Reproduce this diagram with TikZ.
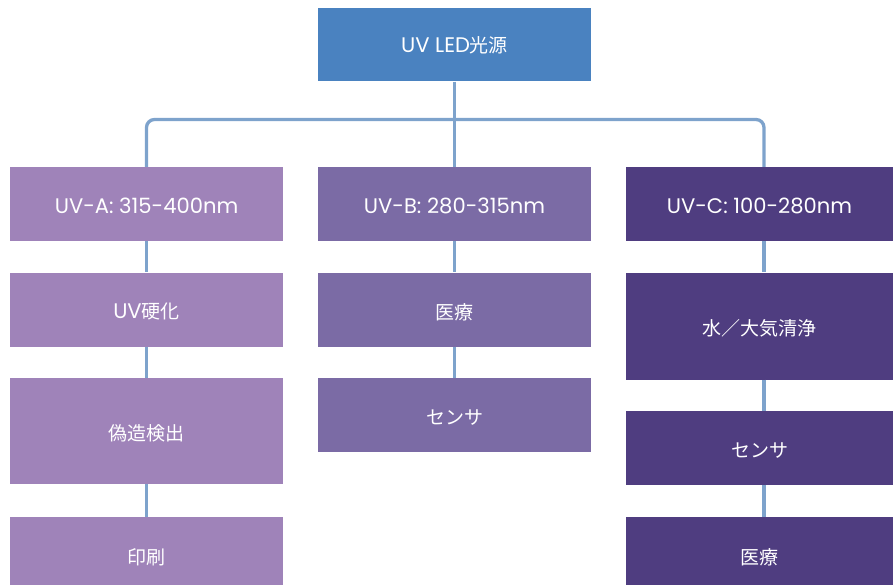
\documentclass[tikz,border=0pt]{standalone}
\usepackage{fontspec}
\setmainfont{Noto Sans CJK JP}
\newfontfamily\lat{Poppins}[Scale=1.11]
\newcommand\lowr[2]{\raisebox{-#1pt}[\height][\depth]{#2}}
\begin{document}
\begin{tikzpicture}[x=1pt,y=-1pt,
  box/.style={draw=none,minimum width=273pt,inner sep=0pt,text=white,font=\fontsize{19}{22}\selectfont},
  link/.style={draw=lineblue,line width=3.3pt},
]
\definecolor{topblue}{HTML}{4A82C0}
\definecolor{colA}{HTML}{9F83B9}
\definecolor{colB}{HTML}{7B6BA5}
\definecolor{colC}{HTML}{4F3D80}
\definecolor{lineblue}{HTML}{7EA3CC}
\useasboundingbox (0,0) rectangle (893,585);
\node[box,fill=topblue,minimum height=73.5pt] (top) at (454.5,44.75) {\lowr{1}{{\lat UV LED}光源}};
% column A
\node[box,fill=colA,minimum height=74pt] (a0) at (146.5,204) {\lowr{1.5}{\lat UV-A: 315-400nm}};
\node[box,fill=colA,minimum height=74pt] (a1) at (146.5,309.5) {\lowr{2}{{\lat UV}硬化}};
\node[box,fill=colA,minimum height=106.5pt] (a2) at (146.5,431) {\lowr{2.5}{偽造検出}};
\node[box,fill=colA,minimum height=68.5pt] (a3) at (146.5,551.25) {\lowr{6}{印刷}};
% column B
\node[box,fill=colB,minimum height=74pt] (b0) at (454.5,204) {\lowr{1.5}{\lat UV-B: 280-315nm}};
\node[box,fill=colB,minimum height=74pt] (b1) at (454.5,309.5) {\lowr{2.5}{医療}};
\node[box,fill=colB,minimum height=73.5pt] (b2) at (454.5,414.75) {\lowr{3}{センサ}};
% column C
\node[box,fill=colC,minimum width=267pt,minimum height=74pt] (c0) at (759.5,204) {\lowr{1.5}{\lat UV-C: 100-280nm}};
\node[box,fill=colC,minimum width=267pt,minimum height=107pt] (c1) at (759.5,326) {\lowr{2.5}{水／大気清浄}};
\node[box,fill=colC,minimum width=267pt,minimum height=74pt] (c2) at (759.5,447.75) {\lowr{3}{センサ}};
\node[box,fill=colC,minimum width=267pt,minimum height=68.5pt] (c3) at (759.5,551.25) {\lowr{6}{医療}};
\coordinate (ja) at (146.5,119.5);
\coordinate (jc) at (764,119.5);
% connectors
\draw[link] (top.south) -- (b0.north);
\draw[link,rounded corners=8pt] (a0.north) -- (ja) -- (jc) -- (jc |- c0.north);
\draw[link] (a0.south) -- (a1.north);
\draw[link] (a1.south) -- (a2.north);
\draw[link] (a2.south) -- (a3.north);
\draw[link] (b0.south) -- (b1.north);
\draw[link] (b1.south) -- (b2.north);
\draw[link] (c0.south -| jc) -- (c1.north -| jc);
\draw[link] (c1.south -| jc) -- (c2.north -| jc);
\draw[link] (c2.south -| jc) -- (c3.north -| jc);
\end{tikzpicture}
\end{document}
